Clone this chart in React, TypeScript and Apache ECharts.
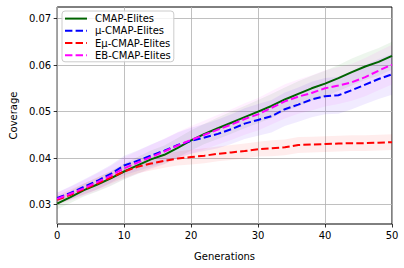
import React, { useEffect, useRef } from "react";
import * as echarts from "echarts";

const generations = [0, 2, 4, 6, 8, 10, 12, 14, 16, 18, 20, 22, 24, 26, 28, 30, 32, 34, 36, 38, 40, 42, 44, 46, 48, 50];
const seriesNames = ["CMAP-Elites", "μ-CMAP-Elites", "Eμ-CMAP-Elites", "EB-CMAP-Elites"];

const cmap = [0.0302, 0.0316, 0.0331, 0.0343, 0.0356, 0.0371, 0.0384, 0.0397, 0.0407, 0.0422, 0.0438, 0.0452, 0.0464, 0.0476, 0.0488, 0.0500, 0.0512, 0.0526, 0.0538, 0.0550, 0.0560, 0.0572, 0.0585, 0.0597, 0.0607, 0.0620];
const muCmap = [0.0314, 0.0325, 0.0338, 0.0351, 0.0366, 0.0384, 0.0394, 0.0405, 0.0416, 0.0428, 0.0437, 0.0444, 0.0452, 0.0462, 0.0474, 0.0482, 0.0490, 0.0505, 0.0515, 0.0526, 0.0533, 0.0535, 0.0546, 0.0558, 0.0570, 0.0580];
const eMuCmap = [0.0310, 0.0321, 0.0333, 0.0345, 0.0358, 0.0371, 0.0381, 0.0388, 0.0394, 0.0399, 0.0402, 0.0405, 0.0409, 0.0412, 0.0415, 0.0419, 0.0421, 0.0423, 0.0428, 0.0429, 0.0430, 0.0431, 0.0432, 0.0432, 0.0433, 0.0434];
const ebCmap = [0.0312, 0.0323, 0.0335, 0.0348, 0.0362, 0.0378, 0.0390, 0.0402, 0.0414, 0.0427, 0.0439, 0.0450, 0.0461, 0.0472, 0.0484, 0.0494, 0.0508, 0.0522, 0.0532, 0.0540, 0.0550, 0.0556, 0.0563, 0.0574, 0.0588, 0.0601];

// half-widths of the shaded bands
const cmapSpread = [0.0012, 0.0013, 0.0014, 0.0015, 0.0016, 0.0017, 0.0018, 0.0019, 0.0020, 0.0021, 0.0022, 0.0022, 0.0023, 0.0024, 0.0024, 0.0025, 0.0026, 0.0026, 0.0027, 0.0027, 0.0028, 0.0028, 0.0029, 0.0029, 0.0030, 0.0030];
const muSpread = [0.0012, 0.0014, 0.0016, 0.0018, 0.0019, 0.0021, 0.0022, 0.0024, 0.0025, 0.0027, 0.0028, 0.0029, 0.0031, 0.0032, 0.0033, 0.0034, 0.0035, 0.0036, 0.0037, 0.0038, 0.0039, 0.0040, 0.0041, 0.0042, 0.0043, 0.0044];
const eMuSpread = [0.0010, 0.0011, 0.0012, 0.0013, 0.0013, 0.0014, 0.0014, 0.0015, 0.0015, 0.0015, 0.0016, 0.0016, 0.0016, 0.0016, 0.0016, 0.0016, 0.0017, 0.0017, 0.0017, 0.0017, 0.0017, 0.0017, 0.0017, 0.0017, 0.0017, 0.0017];
const ebSpread = [0.0013, 0.0015, 0.0017, 0.0019, 0.0021, 0.0023, 0.0025, 0.0026, 0.0028, 0.0029, 0.0030, 0.0031, 0.0032, 0.0033, 0.0034, 0.0035, 0.0036, 0.0037, 0.0037, 0.0038, 0.0039, 0.0040, 0.0040, 0.0041, 0.0042, 0.0043];

const yTicks = [0.03, 0.04, 0.05, 0.06, 0.07];

const colors = ["#006400", "#0000ff", "#ff0000", "#ff00ff"];
const bandColors = ["rgba(0,128,0,0.07)", "rgba(80,0,255,0.08)", "rgba(255,0,0,0.07)", "rgba(255,0,255,0.06)"];

const FONT = "DejaVu Sans";

export default function App() {
  const ref = useRef<HTMLDivElement>(null);
  useEffect(() => {
    if (!ref.current) return;
    const chart = echarts.init(ref.current, undefined, { renderer: "svg" });
    const means = [cmap, muCmap, eMuCmap, ebCmap];
    const spreads = [cmapSpread, muSpread, eMuSpread, ebSpread];

    const bandSeries = means.map((m, i) => {
      const s = spreads[i];
      return {
        type: "custom",
        name: "band-" + i,
        silent: true,
        z: 1,
        data: [0],
        renderItem: (params: any, api: any) => {
          const upper = generations.map((g, k) => api.coord([g, m[k] + s[k]]));
          const lower = generations.map((g, k) => api.coord([g, m[k] - s[k]])).reverse();
          return {
            type: "polygon",
            shape: { points: upper.concat(lower) },
            style: { fill: bandColors[i], stroke: "none" },
          };
        },
      };
    });

    const lineSeries = means.map((m, i) => ({
      type: "line",
      name: seriesNames[i],
      symbol: "none",
      color: colors[i],
      lineStyle: {
        color: colors[i],
        width: 2,
        type: i === 0 ? "solid" : [7.4, 3.2],
      },
      data: generations.map((g, k) => [g, m[k]]),
      z: 3,
    }));

    chart.setOption({
      animation: false,
      grid: {
        left: 57,
        right: 12,
        top: 7,
        bottom: 44,
        show: true,
        borderColor: "#000",
        borderWidth: 1,
      },
      legend: {
        data: seriesNames.map((n) => ({ name: n })),
        orient: "vertical",
        left: 62,
        top: 11,
        padding: [2, 3, 1, 2],
        itemWidth: 22,
        itemHeight: 14,
        itemGap: 1,
        itemStyle: { opacity: 0 },
        backgroundColor: "rgba(255,255,255,0.8)",
        borderColor: "#cccccc",
        borderWidth: 1,
        borderRadius: 3,
        textStyle: { fontFamily: FONT, fontSize: 10, color: "#000", padding: [0, 0, 0, 3] },
      },
      xAxis: {
        type: "value",
        min: 0,
        max: 50,
        interval: 10,
        name: "Generations",
        nameLocation: "middle",
        nameGap: 27,
        nameTextStyle: { fontFamily: FONT, fontSize: 10, color: "#000" },
        axisLine: { show: false },
        axisTick: { show: true, length: 3.5, lineStyle: { color: "#000", width: 0.8 } },
        axisLabel: { fontFamily: FONT, fontSize: 10, color: "#000", margin: 6 },
        splitLine: { show: true, lineStyle: { color: "#b0b0b0", width: 0.8 } },
      },
      yAxis: {
        type: "value",
        min: 0.0258,
        max: 0.0725,
        splitNumber: 4,
        name: "Coverage",
        nameLocation: "middle",
        nameGap: 38,
        nameTextStyle: { fontFamily: FONT, fontSize: 10, color: "#000" },
        axisLine: { show: false },
        axisTick: {
          show: true,
          length: 3.5,
          lineStyle: { color: "#000", width: 0.8 },
          customValues: yTicks,
        },
        axisLabel: {
          fontFamily: FONT,
          fontSize: 10,
          color: "#000",
          margin: 6,
          customValues: yTicks,
          formatter: (v: number) => v.toFixed(2),
        },
        splitLine: { show: true, lineStyle: { color: "#b0b0b0", width: 0.8 } },
      },
      series: [...bandSeries, ...lineSeries],
    });
    return () => chart.dispose();
  }, []);
  return <div ref={ref} style={{ width: 404, height: 268, position: "absolute", left: 0, top: 0 }} />;
}
